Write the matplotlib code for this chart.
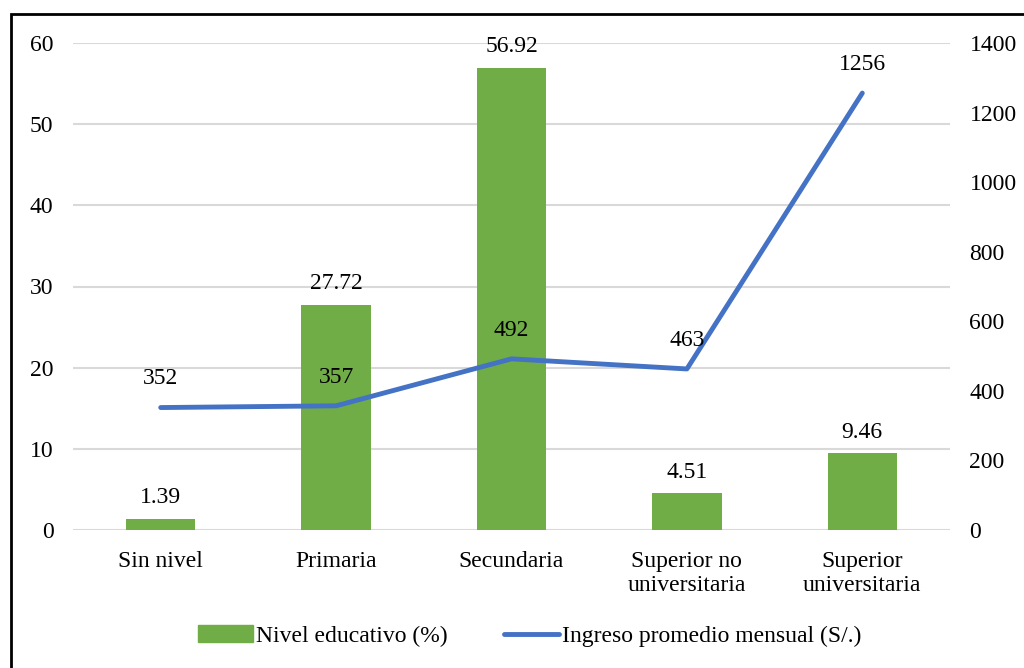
import matplotlib.pyplot as plt
from matplotlib.patches import Rectangle
from matplotlib.lines import Line2D

plt.rcParams['font.family'] = ['Liberation Serif', 'DejaVu Serif']

# Datos
categorias = ["Sin nivel", "Primaria", "Secundaria", "Superior no\nuniversitaria", "Superior\nuniversitaria"]
nivel_educativo = [1.39, 27.72, 56.92, 4.51, 9.46]
ingreso_mensual = [352, 357, 492, 463, 1256]

verde = "#70AD47"
azul = "#4472C4"
fs = 17

fig = plt.figure(figsize=(10.24, 6.68), dpi=100)
ax = fig.add_axes([73/1024, 1 - 530/668, 877/1024, 487/668])
ax2 = ax.twinx()

x = list(range(len(categorias)))
ax.bar(x, nivel_educativo, width=0.395, color=verde, zorder=2)
ax.set_xlim(-0.5, len(categorias) - 0.5)
ax.set_ylim(0, 60)
ax.set_yticks(range(0, 61, 10))
ax.yaxis.grid(True, color="#D9D9D9", linewidth=1.5, zorder=0)
ax.set_axisbelow(True)

for xi, v in zip(x, nivel_educativo):
    ax.text(xi, v + 1.3, f"{v:.2f}", ha="center", va="bottom", fontsize=fs)

ax2.plot(x, ingreso_mensual, color=azul, linewidth=3.5, solid_capstyle="round", zorder=3)
ax2.set_ylim(0, 1400)
ax2.set_yticks(range(0, 1401, 200))
for xi, v in zip(x, ingreso_mensual):
    ax2.text(xi, v + 52, f"{v}", ha="center", va="bottom", fontsize=fs)

ax.set_xticks(x)
ax.set_xticklabels(categorias, fontsize=fs, linespacing=1.2)
for a in (ax, ax2):
    for s in a.spines.values():
        s.set_visible(False)
    a.tick_params(length=0, labelsize=fs)
ax.tick_params(axis="y", pad=14)
ax2.tick_params(axis="y", pad=14)
ax.tick_params(axis="x", pad=15)

# Leyenda
handles = [Rectangle((0, 0), 1, 1, color=verde),
           Line2D([0], [0], color=azul, linewidth=3.5, solid_capstyle="round")]
fig.legend(handles, ["Nivel educativo (%)", "Ingreso promedio mensual (S/.)"],
           loc="center", bbox_to_anchor=(530/1024, 1 - 636/668), ncol=2, frameon=False,
           fontsize=fs, handlelength=2.3, handletextpad=0.15, columnspacing=2.4)

# Marco
fig.add_artist(Rectangle((11/1024, -0.1), 1.1, 1 - 14/668 + 0.1, transform=fig.transFigure,
                         fill=False, edgecolor="black", linewidth=2))

fig.savefig("out.png", dpi=100)
